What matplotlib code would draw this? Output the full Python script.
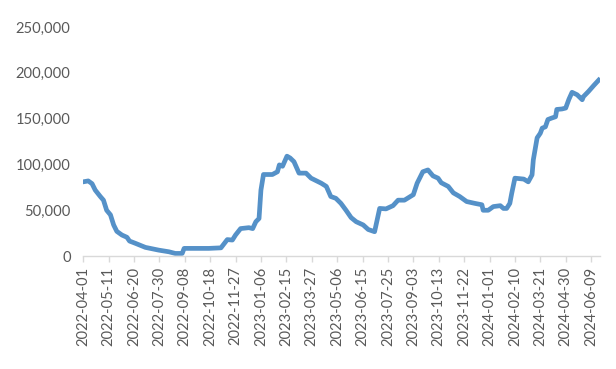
import pandas as pd
import matplotlib.pyplot as plt
from matplotlib.ticker import FuncFormatter, MultipleLocator

# values
dates = [
    "2022-04-01", "2022-04-09", "2022-04-15", "2022-04-20", "2022-04-28",
    "2022-05-03", "2022-05-08", "2022-05-14", "2022-05-19", "2022-05-24",
    "2022-06-01", "2022-06-09", "2022-06-13", "2022-06-22", "2022-07-08",
    "2022-07-29", "2022-08-14", "2022-08-24", "2022-09-04", "2022-09-07",
    "2022-09-14", "2022-10-16", "2022-11-04", "2022-11-14", "2022-11-22",
    "2022-11-27", "2022-12-05", "2022-12-18", "2022-12-24", "2022-12-29",
    "2023-01-03", "2023-01-06", "2023-01-10", "2023-01-24", "2023-02-01",
    "2023-02-04", "2023-02-09", "2023-02-16", "2023-02-21", "2023-02-27",
    "2023-03-07", "2023-03-18", "2023-03-26", "2023-04-11", "2023-04-19",
    "2023-04-26", "2023-05-04", "2023-05-12", "2023-05-20", "2023-05-28",
    "2023-06-05", "2023-06-16", "2023-06-24", "2023-07-04", "2023-07-12",
    "2023-07-22", "2023-08-02", "2023-08-10", "2023-08-20", "2023-09-03",
    "2023-09-09", "2023-09-18", "2023-09-26", "2023-10-04", "2023-10-12",
    "2023-10-17", "2023-10-28", "2023-11-05", "2023-11-15", "2023-11-26",
    "2023-12-09", "2023-12-20", "2023-12-22", "2023-12-30", "2024-01-07",
    "2024-01-18", "2024-01-23", "2024-01-28", "2024-02-02", "2024-02-05",
    "2024-02-10", "2024-02-24", "2024-03-02", "2024-03-08", "2024-03-10",
    "2024-03-16", "2024-03-21", "2024-03-24", "2024-03-29", "2024-04-02",
    "2024-04-08", "2024-04-14", "2024-04-16", "2024-04-24", "2024-04-30",
    "2024-05-05", "2024-05-10", "2024-05-18", "2024-05-26", "2024-05-28",
    "2024-06-05", "2024-06-13", "2024-06-21",
]
values = [
    81000, 82000, 79000, 72000, 65000,
    61000, 50000, 45000, 34000, 27000,
    23000, 20500, 16400, 14000, 9500,
    6500, 4700, 2900, 2900, 8400,
    8400, 8400, 9000, 18000, 17500,
    23000, 30000, 31000, 30000, 37500,
    41000, 72000, 89000, 89000, 92000,
    99500, 98000, 109000, 107000, 103000,
    90500, 90500, 85000, 79500, 76000,
    65000, 63000, 57500, 50000, 42000,
    37500, 34000, 29000, 26600, 52000,
    51500, 55000, 61000, 61000, 67000,
    79500, 92000, 94000, 87500, 85000,
    80000, 76000, 69000, 65000, 59500,
    57500, 56000, 50000, 50000, 54000,
    55000, 52000, 52000, 57500, 68500,
    85000, 84000, 81000, 88600, 105000,
    129000, 134000, 139600, 141000, 149000,
    150600, 152000, 160000, 160500, 161500,
    171000, 178700, 176000, 170600, 174000,
    179700, 186000, 192000,
]
tick_start = "2022-04-01"
tick_end = "2024-06-09"

df = pd.DataFrame({"date": pd.to_datetime(dates), "value": values})

plt.rcParams["font.family"] = ["Lato", "DejaVu Sans"]

fig = plt.figure(figsize=(6.16, 3.69), dpi=100)
ax = fig.add_axes([0.135, 0.306, 0.839, 0.621])

ax.plot(df["date"], df["value"], color="#5591c8", lw=3.4, solid_joinstyle="round")

ax.set_ylim(0, 250000)
ax.yaxis.set_major_locator(MultipleLocator(50000))
ax.yaxis.set_major_formatter(FuncFormatter(lambda v, p: f"{int(v):,}"))

ticks = pd.date_range(tick_start, tick_end, freq="40D")
ax.set_xticks(ticks)
ax.set_xticklabels([t.strftime("%Y-%m-%d") for t in ticks], rotation=90)
ax.set_xlim(pd.Timestamp(tick_start), pd.Timestamp("2024-06-23"))

for s in ["top", "right", "left"]:
    ax.spines[s].set_visible(False)
ax.spines["bottom"].set_color("#d9d9d9")
ax.spines["bottom"].set_linewidth(1)

ax.tick_params(axis="y", length=0, pad=9, labelsize=10.6, labelcolor="#595959")
ax.tick_params(axis="x", length=4.5, width=1, color="#d9d9d9", pad=3,
               labelsize=10.6, labelcolor="#595959")

fig.savefig("out.png", dpi=100)
